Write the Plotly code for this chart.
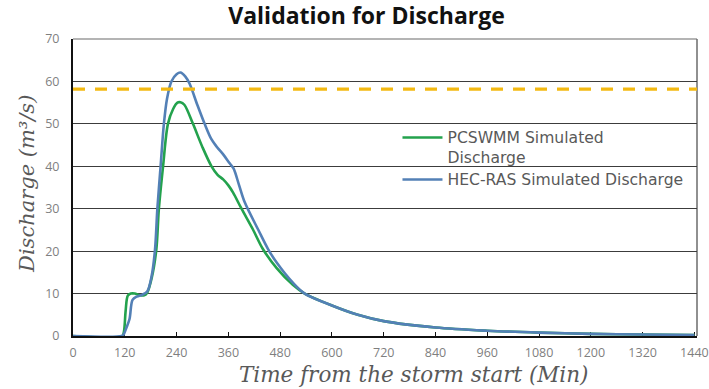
import plotly.graph_objects as go

# ---- data ----
pcswmm_time = [0, 114, 118, 122, 127, 134, 143, 155, 165, 172, 182, 193, 199, 208.7, 220, 232, 242, 249,
               258, 278, 300, 321, 335, 348, 360, 371, 390.5, 417, 440, 472, 510, 537, 600, 660, 720,
               840, 960, 1080, 1200, 1320, 1440]
pcswmm_q = [0, 0, 1, 6, 9.5, 10, 10, 9.6, 9.6, 10.2, 13.5, 20.3, 30, 40, 50, 53.5, 55, 55.1,
            54.5, 50, 44.5, 40, 38, 36.9, 35.5, 33.8, 30, 25.1, 20.5, 16, 12, 10, 7.2, 5, 3.5,
            2, 1.25, 0.8, 0.5, 0.35, 0.25]

hecras_time = [0, 113, 117, 124, 131, 138, 148, 160, 172, 182, 190, 195.5, 203, 210.6, 218, 228, 240, 249,
               260, 270, 288, 305, 320, 333, 348, 363, 372, 385, 398, 429, 452, 472, 510, 537, 600, 660,
               720, 840, 960, 1080, 1200, 1320, 1440]
hecras_q = [0, 0, 0.3, 2, 4, 8.5, 9.3, 9.7, 10.5, 14, 20.3, 30, 40, 50, 56, 60, 61.7, 62.1,
            61.2, 59.5, 54.5, 50, 46.5, 44.6, 42.8, 40.7, 39.5, 35.5, 31.5, 25.1, 20.5, 17.3, 12.5, 10, 7.2, 5,
            3.5, 2, 1.25, 0.8, 0.5, 0.35, 0.25]

threshold_q = 58.2
x_ticks = list(range(0, 1441, 120))
y_ticks = list(range(0, 71, 10))

title_text = "<b>Validation for Discharge</b>"
x_title = "Time from the storm start (Min)"
y_title = "Discharge (m³/s)"
name_pcswmm = "PCSWMM Simulated<br>Discharge"
name_hecras = "HEC-RAS Simulated Discharge"

GREEN = "#23A24D"
BLUE = "#5380B6"
GOLD = "#F3B912"
GRAY_TXT = "#7F7F7F"


def legend_label(name):
    return "<br>".join('<span style="font-size:15.6px">%s</span>' % part for part in name.split("<br>"))


fig = go.Figure()
fig.add_trace(go.Scatter(x=pcswmm_time, y=pcswmm_q, mode="lines", name=legend_label(name_pcswmm),
                         line=dict(color=GREEN, width=2.6, shape="spline", smoothing=0.9)))
fig.add_trace(go.Scatter(x=hecras_time, y=hecras_q, mode="lines", name=legend_label(name_hecras),
                         line=dict(color=BLUE, width=2.6, shape="spline", smoothing=0.9)))

# threshold dashed line
fig.add_shape(type="line", xref="paper", yref="y", x0=0, x1=1, y0=threshold_q, y1=threshold_q,
              line=dict(color=GOLD, width=3.2, dash="12px,10px"), layer="above")
# top and right frame
fig.add_shape(type="line", xref="paper", yref="paper", x0=0, x1=1, y0=1, y1=1,
              line=dict(color="#6b6b6b", width=1.2), layer="below")
fig.add_shape(type="line", xref="paper", yref="paper", x0=1, x1=1, y0=0, y1=1,
              line=dict(color="#6b6b6b", width=1.5), layer="below")

# axis titles placed like the reference
fig.add_annotation(text=x_title, xref="paper", yref="paper", x=0.545, y=-0.128,
                   xanchor="center", yanchor="middle", showarrow=False,
                   font=dict(family="DejaVu Serif", size=21.5, color="#595959", style="italic"))
fig.add_annotation(text=y_title, xref="paper", yref="paper", x=-0.0737, y=0.512,
                   xanchor="center", yanchor="middle", showarrow=False, textangle=-90,
                   font=dict(family="DejaVu Serif", size=21, color="#595959", style="italic"))

fig.update_layout(
    width=709, height=389,
    margin=dict(l=73, r=12, t=39, b=53, autoexpand=False),
    paper_bgcolor="white", plot_bgcolor="white",
    title=dict(text=title_text, x=0.517, xanchor="center", y=0.960, yanchor="middle",
               font=dict(family="Open Sans", size=23, color="#111111")),
    showlegend=True,
    legend=dict(x=0.52, y=0.723, xanchor="left", yanchor="top", bgcolor="rgba(0,0,0,0)",
                font=dict(family="DejaVu Sans", size=15, color="#595959"),
                valign="top", itemwidth=40, tracegroupgap=0),
    font=dict(family="Open Sans"),
)

fig.update_xaxes(
    range=[0, 1446], tickvals=x_ticks, ticktext=[str(v) for v in x_ticks],
    showgrid=False, zeroline=False, automargin=False,
    showline=True, linecolor="#111111", linewidth=2,
    ticks="inside", ticklen=4, tickwidth=1.2, tickcolor="#111111",
    ticklabelstandoff=4,
    tickfont=dict(family="Open Sans", size=12.5, color=GRAY_TXT),
    layer="below traces",
)
fig.update_yaxes(
    range=[0, 70], tickvals=y_ticks,
    showgrid=True, gridcolor="#3c3c3c", gridwidth=1,
    zeroline=False, showline=True, linecolor="#111111", linewidth=2, automargin=False,
    ticks="", ticklabelstandoff=9,
    tickfont=dict(family="Open Sans", size=12.5, color=GRAY_TXT),
    layer="below traces",
)

fig.write_html("out.html", config={"displayModeBar": False},
               post_script="document.body.style.margin='0';document.body.style.padding='0';")
